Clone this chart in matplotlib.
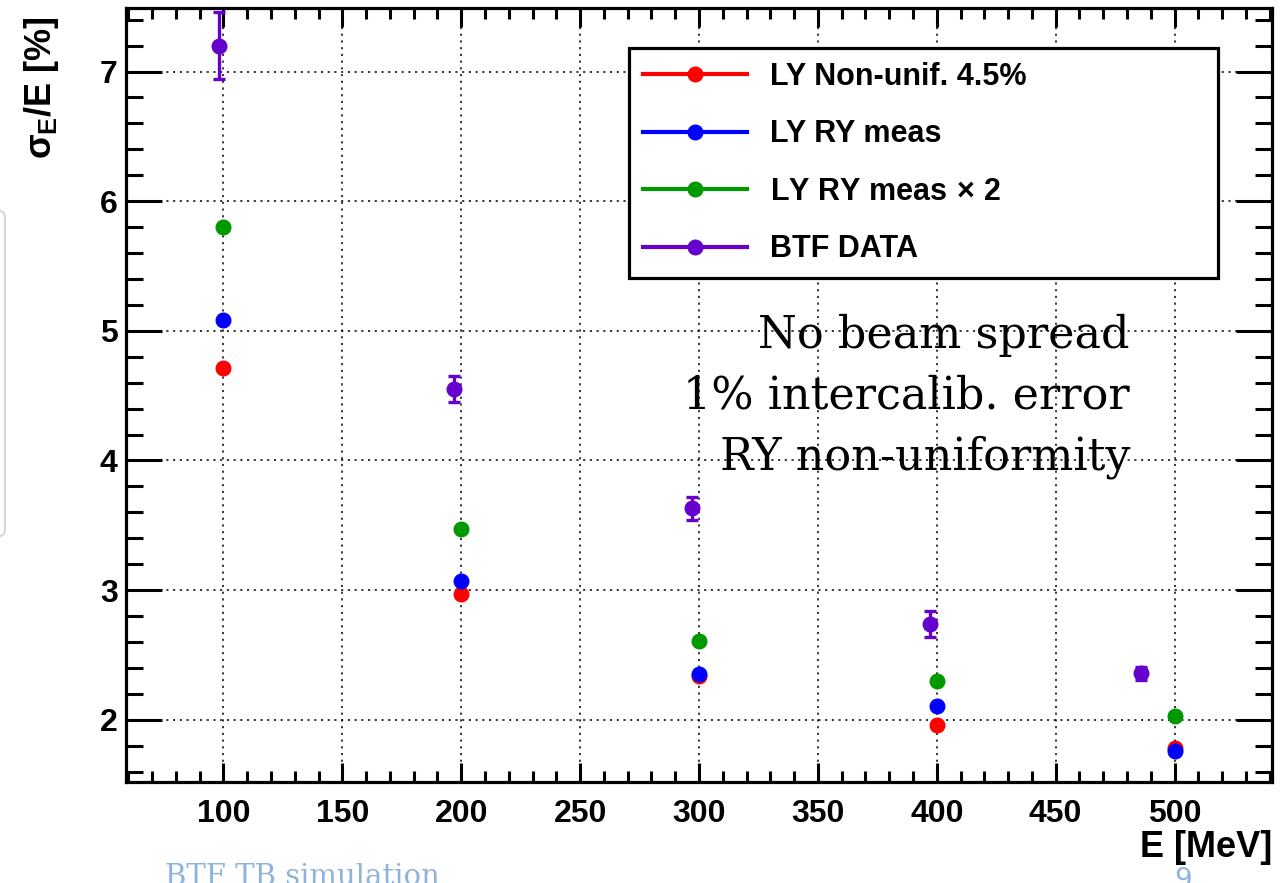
import matplotlib
matplotlib.use("Agg")
import matplotlib.pyplot as plt
from matplotlib.lines import Line2D
from matplotlib.patches import FancyBboxPatch
from matplotlib.ticker import MultipleLocator

# Beam energies (MeV)
energy_sim = [100, 200, 300, 400, 500]
energy_data = [98, 197, 297, 397, 486]

# Energy resolution sigma_E/E (%)
res_ly_nonunif = [4.71, 2.97, 2.34, 1.96, 1.78]
res_ly_ry = [5.08, 3.07, 2.35, 2.11, 1.76]
res_ly_ry_x2 = [5.80, 3.47, 2.61, 2.30, 2.03]
res_btf = [7.20, 4.55, 3.63, 2.74, 2.36]
err_btf = [0.26, 0.10, 0.09, 0.10, 0.05]

labels = ["LY Non-unif. 4.5%", "LY RY meas", r"LY RY meas$\,\times\,$2", "BTF DATA"]
colors = ["#ff0000", "#0000ff", "#009900", "#6600cc"]
note_lines = ["No beam spread", "1% intercalib. error", "RY non-uniformity"]

plt.rcParams["font.family"] = ["Liberation Sans", "DejaVu Sans"]
plt.rcParams["mathtext.fontset"] = "custom"
plt.rcParams["mathtext.rm"] = "Liberation Sans:bold"
plt.rcParams["mathtext.it"] = "Liberation Sans:bold"
plt.rcParams["mathtext.bf"] = "Liberation Sans:bold"

W, H = 1285, 883
fig = plt.figure(figsize=(W / 100, H / 100), dpi=100)
ax = fig.add_axes([126 / W, 1 - 782 / H, (1272 - 126) / W, (782 - 8) / H])

ax.set_xlim(59, 541)
ax.set_ylim(1.52, 7.49)

ax.set_axisbelow(True)
ax.grid(True, which="major", color="black", linewidth=1.1, linestyle=(0, (1.4, 3.0)))

ms = 10.5
for ys, c in zip([res_ly_nonunif, res_ly_ry, res_ly_ry_x2], colors[:3]):
    ax.plot(energy_sim, ys, "o", color=c, markersize=ms, linestyle="none",
            clip_on=False, zorder=3)
ax.errorbar(energy_data, res_btf, yerr=err_btf, fmt="o", color=colors[3],
            markersize=ms, elinewidth=2.4, capsize=4, capthick=2.4, zorder=4)

# Axis styling
ax.xaxis.set_major_locator(MultipleLocator(50))
ax.xaxis.set_minor_locator(MultipleLocator(10))
ax.yaxis.set_major_locator(MultipleLocator(1))
ax.yaxis.set_minor_locator(MultipleLocator(0.2))
for s in ax.spines.values():
    s.set_linewidth(2.3)
ax.tick_params(axis="x", which="major", direction="in", length=14, width=2.2,
               top=True, labelsize=23, pad=12)
ax.tick_params(axis="x", which="minor", direction="in", length=8, width=2.2, top=True)
ax.tick_params(axis="y", which="major", direction="in", length=26, width=2.2,
               right=True, labelsize=23, pad=6)
ax.tick_params(axis="y", which="minor", direction="in", length=12, width=2.2, right=True)
for lab in ax.get_xticklabels() + ax.get_yticklabels():
    lab.set_fontweight("bold")

ax.set_xlabel("E [MeV]", fontsize=26, fontweight="bold", loc="right", labelpad=1)
ax.set_ylabel(r"$\sigma_{E}$/E [%]", fontsize=26, fontweight="bold", loc="top")
ax.yaxis.set_label_coords(-0.057, 0.99, transform=ax.transAxes)

# Legend
handles = [Line2D([0], [0], color=c, linewidth=3, marker="o", markersize=ms)
           for c in colors]
leg = ax.legend(handles, labels, loc="upper left",
                bbox_to_anchor=((629 - 126) / (1272 - 126), 1 - (48 - 8) / (782 - 8),
                                (1218 - 629) / (1272 - 126), 0.0),
                mode="expand", borderaxespad=0, frameon=True, fancybox=False,
                edgecolor="black", framealpha=1, borderpad=0.45, labelspacing=0.9,
                handlelength=3.4, handletextpad=0.75,
                prop={"weight": "bold", "size": 22, "family": "Liberation Sans"})
leg.get_frame().set_linewidth(2.3)

# Simulation conditions
for i, line in enumerate(note_lines):
    fig.text(1130 / W, 1 - (348 + i * 61) / H, line, ha="right", va="baseline",
             fontsize=32, family="DejaVu Serif", color="black")

# Slide footer
fig.text(165 / W, 1 - 863 / H, "BTF TB simulation", ha="left", va="top",
         fontsize=21, family="DejaVu Serif", color="#8fb3dc")
fig.text(1174 / W, 1 - 866 / H, "9", ha="left", va="top",
         fontsize=20, family="DejaVu Sans", color="#8fb3dc")

# Edge of a neighbouring slide panel
panel = FancyBboxPatch((-40 / W, 1 - 537 / H), 45 / W, (537 - 210) / H,
                       boxstyle="round,pad=0,rounding_size=0.008",
                       transform=fig.transFigure, facecolor="white",
                       edgecolor="#d6d6d6", linewidth=1.5, zorder=-1)
fig.patches.append(panel)

fig.savefig("out.png", dpi=100)
